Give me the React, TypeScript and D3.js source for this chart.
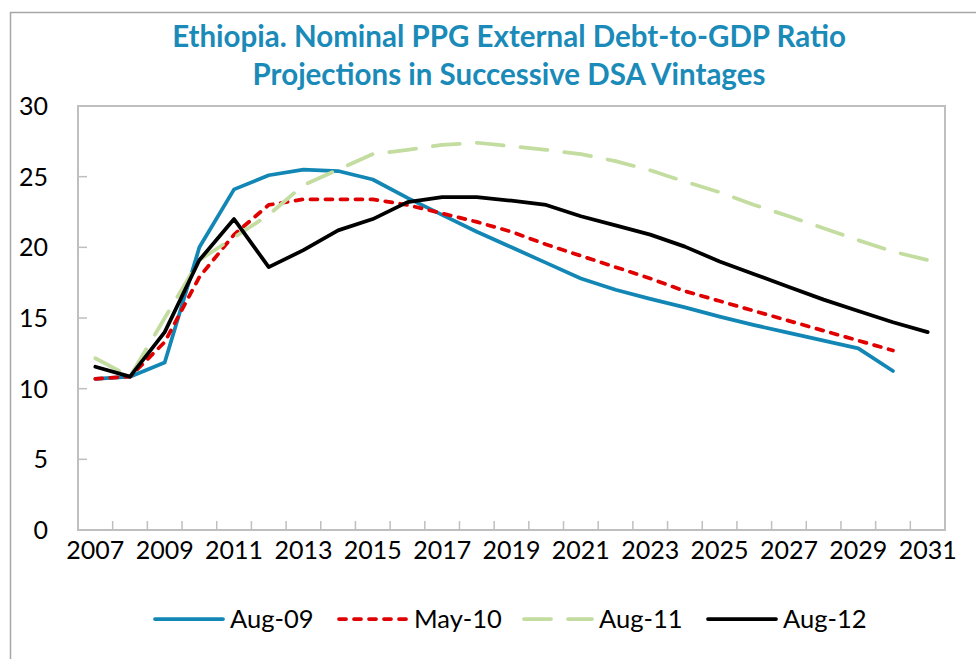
import React, { useEffect, useRef } from "react";
import { select, scaleLinear, scaleBand, line } from "d3";

const years = [
  2007, 2008, 2009, 2010, 2011, 2012, 2013, 2014, 2015, 2016, 2017, 2018, 2019,
  2020, 2021, 2022, 2023, 2024, 2025, 2026, 2027, 2028, 2029, 2030, 2031,
];

// Aug-09 and May-10 vintages stop at 2030
const aug09 = [
  10.7, 10.85, 11.85, 20.0, 24.1, 25.1, 25.5, 25.4, 24.8, 23.5, 22.3, 21.1, 20.0,
  18.9, 17.8, 17.0, 16.35, 15.75, 15.1, 14.5, 13.95, 13.4, 12.85, 11.25,
];
const may10 = [
  10.7, 10.85, 13.3, 17.9, 20.9, 23.0, 23.4, 23.4, 23.4, 23.0, 22.4, 21.8, 21.1,
  20.2, 19.4, 18.6, 17.8, 16.9, 16.2, 15.5, 14.8, 14.1, 13.4, 12.7,
];
const aug11 = [
  12.15, 10.85, 15.0, 19.1, 20.7, 22.3, 24.4, 25.5, 26.6, 26.9, 27.25, 27.4, 27.15,
  26.9, 26.6, 26.1, 25.45, 24.65, 23.9, 23.0, 22.2, 21.35, 20.5, 19.7, 19.1,
];
const aug12 = [
  11.55, 10.85, 14.0, 19.1, 22.0, 18.6, 19.8, 21.2, 22.0, 23.2, 23.55, 23.55, 23.3,
  23.0, 22.2, 21.55, 20.9, 20.05, 19.0, 18.1, 17.2, 16.3, 15.5, 14.7, 14.0,
];

const seriesNames = ["Aug-09", "May-10", "Aug-11", "Aug-12"];
const yTicks = [0, 5, 10, 15, 20, 25, 30];
const xTickLabels = [
  2007, 2009, 2011, 2013, 2015, 2017, 2019, 2021, 2023, 2025, 2027, 2029, 2031,
];
const titleLines = [
  "Ethiopia. Nominal PPG External Debt-to-GDP Ratio",
  "Projections in Successive DSA Vintages",
];

export default function App() {
  const svgRef = useRef<SVGSVGElement>(null);

  const width = 976;
  const height = 659;
  const plot = { left: 78, top: 106, right: 945, bottom: 530 };
  const font = "Lato, 'Open Sans', sans-serif";
  const axisGray = "#bfbfbf";

  // round caps, so dash lengths are shortened by the line width
  const styles = [
    { color: "#1287b5", dash: null },
    { color: "#e00000", dash: "7,8" },
    { color: "#c3dca0", dash: "27,17" },
    { color: "#000000", dash: null },
  ];

  useEffect(() => {
    const svg = select(svgRef.current);
    svg.selectAll("*").remove();

    const xScale = scaleBand<number>()
      .domain(years)
      .range([plot.left, plot.right]);
    const xPos = (y: number) => (xScale(y) as number) + xScale.bandwidth() / 2;
    const yScale = scaleLinear().domain([0, 30]).range([plot.bottom, plot.top]);

    // outer chart frame (cut off at right/bottom)
    svg
      .append("rect")
      .attr("x", 10.5)
      .attr("y", 12.5)
      .attr("width", 1000)
      .attr("height", 700)
      .attr("fill", "white")
      .attr("stroke", "#a6a6a6")
      .attr("stroke-width", 1.5);

    // title
    svg
      .selectAll("text.title")
      .data(titleLines)
      .join("text")
      .attr("class", "title")
      .attr("x", 509)
      .attr("y", (d, i) => 47 + i * 38)
      .attr("text-anchor", "middle")
      .attr("font-family", font)
      .attr("font-weight", "bold")
      .attr("font-size", 29.5)
      .attr("fill", "#1a8ab8")
      .text((d) => d);

    // plot area box
    svg
      .append("rect")
      .attr("x", plot.left)
      .attr("y", plot.top)
      .attr("width", plot.right - plot.left)
      .attr("height", plot.bottom - plot.top)
      .attr("fill", "none")
      .attr("stroke", axisGray)
      .attr("stroke-width", 2);

    // y ticks (inside)
    svg
      .selectAll("line.ytick")
      .data(yTicks)
      .join("line")
      .attr("class", "ytick")
      .attr("x1", plot.left)
      .attr("x2", plot.left + 9)
      .attr("y1", (d) => yScale(d))
      .attr("y2", (d) => yScale(d))
      .attr("stroke", axisGray)
      .attr("stroke-width", 1.5);

    svg
      .selectAll("text.ylab")
      .data(yTicks)
      .join("text")
      .attr("class", "ylab")
      .attr("x", 48)
      .attr("y", (d) => yScale(d))
      .attr("dy", "0.36em")
      .attr("text-anchor", "end")
      .attr("font-family", font)
      .attr("font-size", 25)
      .attr("fill", "#000")
      .text((d) => d);

    // x ticks between categories (inside)
    svg
      .selectAll("line.xtick")
      .data(years.slice(1))
      .join("line")
      .attr("class", "xtick")
      .attr("x1", (d) => xScale(d) as number)
      .attr("x2", (d) => xScale(d) as number)
      .attr("y1", plot.bottom)
      .attr("y2", plot.bottom - 9)
      .attr("stroke", axisGray)
      .attr("stroke-width", 1.5);

    svg
      .selectAll("text.xlab")
      .data(xTickLabels)
      .join("text")
      .attr("class", "xlab")
      .attr("x", (d) => xPos(d))
      .attr("y", 559)
      .attr("text-anchor", "middle")
      .attr("font-family", font)
      .attr("font-size", 25)
      .attr("fill", "#000")
      .text((d) => d);

    // series lines
    const allSeries = [aug09, may10, aug11, aug12];
    const lineGen = line<number>()
      .x((d, i) => xPos(years[i]))
      .y((d) => yScale(d));

    allSeries.forEach((vals, k) => {
      svg
        .append("path")
        .datum(vals)
        .attr("d", lineGen)
        .attr("fill", "none")
        .attr("stroke", styles[k].color)
        .attr("stroke-width", 3.75)
        .attr("stroke-linejoin", "round")
        .attr("stroke-linecap", "round")
        .attr("stroke-dasharray", styles[k].dash);
    });

    // legend
    const legendX = [155, 339, 524, 708];
    const legendY = 619;
    const legend = svg
      .selectAll("g.legend")
      .data(seriesNames)
      .join("g")
      .attr("class", "legend")
      .attr("transform", (d, i) => `translate(${legendX[i]},${legendY})`);
    legend
      .append("line")
      .attr("x1", 0)
      .attr("x2", 68)
      .attr("y1", 0)
      .attr("y2", 0)
      .attr("stroke", (d, i) => styles[i].color)
      .attr("stroke-width", 3.75)
      .attr("stroke-linecap", "round")
      .attr("stroke-dasharray", (d, i) => styles[i].dash);
    legend
      .append("text")
      .attr("x", 75)
      .attr("y", 0)
      .attr("dy", "0.36em")
      .attr("font-family", font)
      .attr("font-size", 25.5)
      .attr("fill", "#000")
      .text((d) => d);
  }, []);

  return (
    <div style={{ position: "absolute", left: 0, top: 0 }}>
      <svg ref={svgRef} width={width} height={height}></svg>
    </div>
  );
}
